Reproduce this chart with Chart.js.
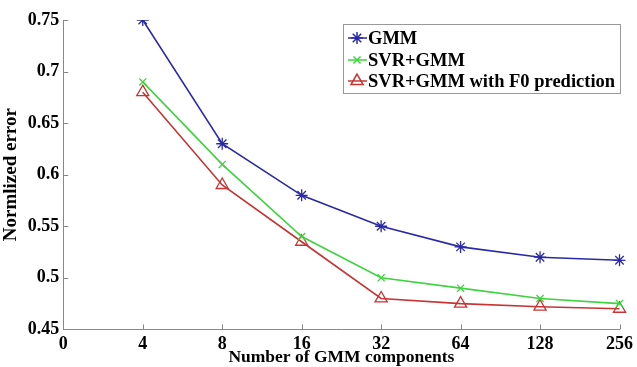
<!DOCTYPE html>
<html>
<head>
<meta charset="utf-8">
<script src="https://cdn.jsdelivr.net/npm/chart.js@4"></script>
<style>
  html, body { margin: 0; padding: 0; background: #fff; }
  #wrap { width: 637px; height: 367px; }
</style>
</head>
<body>
<div id="wrap"><canvas id="chart"></canvas></div>
<script>
// x tick labels (evenly spaced, log2-like)
const components = ["0", "4", "8", "16", "32", "64", "128", "256"];
const gmm = [null, 0.75, 0.63, 0.58, 0.55, 0.53, 0.52, 0.517];
const svrGmm = [null, 0.69, 0.61, 0.54, 0.50, 0.49, 0.48, 0.475];
const svrGmmF0 = [null, 0.68, 0.59, 0.535, 0.48, 0.475, 0.472, 0.47];
const seriesNames = ["GMM", "SVR+GMM", "SVR+GMM with F0 prediction"];

const serif = "'Liberation Serif', 'Times New Roman', serif";

// small inward tick marks like matlab
const innerTicks = {
    id: "innerTicks",
    afterDatasetsDraw(chart) {
        const ctx = chart.ctx;
        const area = chart.chartArea;
        const x = chart.scales.x, y = chart.scales.y;
        ctx.save();
        ctx.strokeStyle = "#888";
        ctx.lineWidth = 1;
        ctx.beginPath();
        x.ticks.forEach((t, i) => {
            const px = Math.round(x.getPixelForTick(i)) + 0.5;
            ctx.moveTo(px, area.bottom);
            ctx.lineTo(px, area.bottom - 5);
        });
        y.ticks.forEach((t, i) => {
            const py = Math.round(y.getPixelForTick(i)) + 0.5;
            ctx.moveTo(area.left, py);
            ctx.lineTo(area.left + 5, py);
        });
        ctx.stroke();
        ctx.restore();
    }
};

// legend box inside the plot, top right
const boxLegend = {
    id: "boxLegend",
    afterDraw(chart) {
        const ctx = chart.ctx;
        const left = 343, top = 24, right = 620, bottom = 93;
        ctx.save();
        ctx.fillStyle = "#fff";
        ctx.fillRect(left, top, right - left, bottom - top);
        ctx.strokeStyle = "#999";
        ctx.lineWidth = 1;
        ctx.strokeRect(left + 0.5, top + 0.5, right - left, bottom - top);
        const rows = [38, 60, 81];
        chart.data.datasets.forEach((ds, i) => {
            const yy = rows[i];
            ctx.strokeStyle = ds.borderColor;
            ctx.fillStyle = ds.backgroundColor;
            ctx.lineWidth = 1.5;
            ctx.beginPath();
            ctx.moveTo(348, yy);
            ctx.lineTo(367, yy);
            ctx.stroke();
            Chart.helpers.drawPoint(ctx, {
                pointStyle: ds.pointStyle,
                radius: ds.pointRadius,
                borderWidth: 1.2,
                rotation: 0
            }, 357, yy);
            ctx.fillStyle = "#000";
            ctx.font = "bold 18.5px " + serif;
            ctx.textBaseline = "middle";
            ctx.fillText(ds.label, 368, yy + 1);
        });
        ctx.restore();
    }
};

new Chart(document.getElementById("chart"), {
    type: "line",
    data: {
        labels: components,
        datasets: [{
            label: seriesNames[0],
            data: gmm,
            borderColor: "#2a2aa8",
            backgroundColor: "#2a2aa8",
            pointStyle: "star",
            pointRadius: 6,
            borderWidth: 1.6,
            pointBorderWidth: 1.3
        }, {
            label: seriesNames[1],
            data: svrGmm,
            borderColor: "#3ed43e",
            backgroundColor: "#3ed43e",
            pointStyle: "crossRot",
            pointRadius: 5,
            borderWidth: 1.6,
            pointBorderWidth: 1.3
        }, {
            label: seriesNames[2],
            data: svrGmmF0,
            borderColor: "#c83434",
            backgroundColor: "rgba(0,0,0,0)",
            pointStyle: "triangle",
            pointRadius: 7,
            borderWidth: 1.6,
            pointBorderWidth: 1.3
        }]
    },
    options: {
        responsive: true,
        maintainAspectRatio: false,
        animation: false,
        layout: { padding: { top: 20, right: 10, left: 0, bottom: 0 } },
        plugins: {
            legend: { display: false },
            tooltip: { enabled: false }
        },
        scales: {
            x: {
                type: "category",
                offset: false,
                grid: { display: false, drawTicks: false },
                border: { color: "#888", width: 1 },
                ticks: {
                    color: "#000",
                    padding: 4,
                    maxRotation: 0,
                    font: { family: serif, size: 18, weight: "bold" }
                },
                title: {
                    display: true,
                    text: "Number of GMM components",
                    color: "#000",
                    padding: { top: -12, bottom: -1 },
                    font: { family: serif, size: 17.5, weight: "bold" }
                }
            },
            y: {
                min: 0.45,
                max: 0.75,
                grid: { display: false, drawTicks: false },
                border: { color: "#888", width: 1 },
                ticks: {
                    stepSize: 0.05,
                    color: "#000",
                    padding: 4,
                    font: { family: serif, size: 18, weight: "bold" },
                    callback: v => String(Math.round(v * 100) / 100)
                },
                title: {
                    display: true,
                    text: "Normlized error",
                    color: "#000",
                    padding: { top: 0, bottom: 1 },
                    font: { family: serif, size: 19, weight: "bold" }
                }
            }
        }
    },
    plugins: [innerTicks, boxLegend]
});
</script>
</body>
</html>
